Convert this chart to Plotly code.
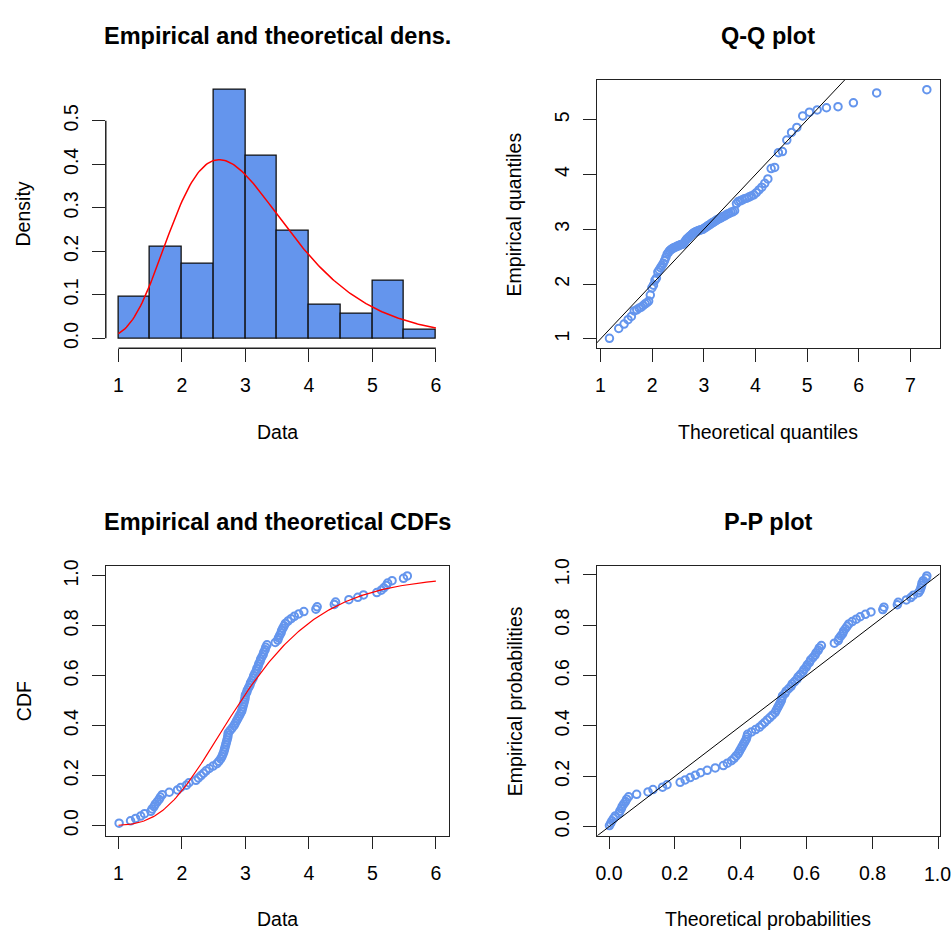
import math
from statistics import NormalDist
import numpy as np
import plotly.graph_objects as go

# Sorted sample (n = 105)
data = [
    1.01, 1.19, 1.27, 1.35, 1.41,
    1.51, 1.53, 1.56, 1.58, 1.61, 1.64, 1.66, 1.69, 1.80, 1.93, 1.98,
    2.07, 2.11, 2.22, 2.26, 2.30, 2.34, 2.38, 2.43, 2.49,
    2.55, 2.58, 2.61, 2.63, 2.645, 2.66, 2.67, 2.68, 2.69, 2.70,
    2.71, 2.72, 2.725, 2.73, 2.76, 2.79, 2.82, 2.84, 2.86, 2.88,
    2.90, 2.92, 2.94, 2.95, 2.96, 2.97, 2.98, 2.99, 2.995, 3.00,
    3.02, 3.03, 3.05, 3.07, 3.08, 3.10, 3.12, 3.13, 3.15, 3.17,
    3.18, 3.20, 3.21, 3.23, 3.24, 3.26, 3.28, 3.29, 3.31, 3.32, 3.34, 3.47,
    3.51, 3.52, 3.54, 3.56, 3.57, 3.59, 3.61, 3.63, 3.67, 3.72, 3.77, 3.84, 3.92,
    4.11, 4.13, 4.40, 4.42,
    4.63, 4.77, 4.86,
    5.07, 5.14, 5.18, 5.22, 5.24, 5.31, 5.49,
    5.55,
]

# Fitted lognormal parameters
meanlog = 1.075
sdlog = 0.353

hist_breaks = [1.0, 1.5, 2.0, 2.5, 3.0, 3.5, 4.0, 4.5, 5.0, 5.5, 6.0]
data_ticks = [1, 2, 3, 4, 5, 6]
density_ticks = [0.0, 0.1, 0.2, 0.3, 0.4, 0.5]
qq_x_ticks = [1, 2, 3, 4, 5, 6, 7]
qq_y_ticks = [1, 2, 3, 4, 5]
prob_ticks = [0.0, 0.2, 0.4, 0.6, 0.8, 1.0]
prob_labels = ["0.0", "0.2", "0.4", "0.6", "0.8", "1.0"]

W, H = 952, 932
FONT = "Liberation Sans, Arial, sans-serif"
BLUE = "#6495ED"
AXC = "#222222"

x = np.array(data)
n = len(x)
nd = NormalDist()


def plnorm(v):
    return np.array([nd.cdf((math.log(t) - meanlog) / sdlog) for t in np.atleast_1d(v)])


def dlnorm(v):
    v = np.atleast_1d(v)
    z = (np.log(v) - meanlog) / sdlog
    return np.exp(-0.5 * z * z) / (v * sdlog * math.sqrt(2 * math.pi))


def qlnorm(p):
    return np.array([math.exp(meanlog + sdlog * nd.inv_cdf(q)) for q in p])


def extend(lo, hi, f=0.04):
    d = hi - lo
    return [lo - f * d, hi + f * d]


# right-closed histogram bins (a, b], first bin includes its lower edge
br = np.array(hist_breaks)
idx = np.searchsorted(br, x, side="left")
idx[idx == 0] = 1
counts = np.array([(idx == i).sum() for i in range(1, len(br))])
widths = np.diff(br)
dens = counts / (n * widths)
centers = (br[:-1] + br[1:]) / 2

obsp = (np.arange(1, n + 1) - 0.5) / n        # plotting positions
ecdf = np.arange(1, n + 1) / n
theo_q = qlnorm(obsp)
theo_p = plnorm(x)

grid = np.linspace(hist_breaks[0], hist_breaks[-1], 201)

# plot regions in pixels: (left, right, top, bottom)
regions = {
    1: (104.0, 447.5, 72.5, 344.0),
    2: (596.0, 939.5, 72.5, 344.0),
    3: (104.0, 447.5, 564.0, 836.5),
    4: (596.0, 939.5, 564.0, 836.5),
}


def xdom(k):
    l, r, t, b = regions[k]
    return [l / W, r / W]


def ydom(k):
    l, r, t, b = regions[k]
    return [1 - b / H, 1 - t / H]


fig = go.Figure()

# panel 1: histogram + fitted density
fig.add_trace(go.Bar(x=centers, y=dens, width=widths, marker=dict(color=BLUE, line=dict(color="#111111", width=1.3)),
                     xaxis="x", yaxis="y"))
fig.add_trace(go.Scatter(x=grid, y=dlnorm(grid), mode="lines", line=dict(color="red", width=1.5),
                         xaxis="x", yaxis="y"))

marker = dict(symbol="circle-open", size=7.5, color=BLUE, line=dict(width=2, color=BLUE))

# panel 2: Q-Q
qq_xr = extend(theo_q.min(), theo_q.max())
qq_yr = extend(x.min(), x.max())
fig.add_trace(go.Scatter(x=theo_q, y=x, mode="markers", marker=marker, xaxis="x2", yaxis="y2"))
lo_l, hi_l = min(qq_xr[0], qq_yr[0]), max(qq_xr[1], qq_yr[1])
fig.add_trace(go.Scatter(x=[lo_l, hi_l], y=[lo_l, hi_l], mode="lines", line=dict(color="black", width=1),
                         xaxis="x2", yaxis="y2"))

# panel 3: CDFs
fig.add_trace(go.Scatter(x=x, y=ecdf, mode="markers", marker=marker, xaxis="x3", yaxis="y3"))
fig.add_trace(go.Scatter(x=grid, y=plnorm(grid), mode="lines", line=dict(color="red", width=1.2),
                         xaxis="x3", yaxis="y3"))

# panel 4: P-P
pp_xr = extend(theo_p.min(), theo_p.max())
pp_yr = extend(obsp.min(), obsp.max())
fig.add_trace(go.Scatter(x=theo_p, y=obsp, mode="markers", marker=marker, xaxis="x4", yaxis="y4"))
lo_p, hi_p = min(pp_xr[0], pp_yr[0]), max(pp_xr[1], pp_yr[1])
fig.add_trace(go.Scatter(x=[lo_p, hi_p], y=[lo_p, hi_p], mode="lines", line=dict(color="black", width=1),
                         xaxis="x4", yaxis="y4"))

tickfont = dict(family=FONT, size=19.5, color="black")


def xax(k, rng, ticks, fmt, anchor, box, text=None):
    d = dict(domain=xdom(k), range=rng, tickvals=ticks, tickformat=fmt, anchor=anchor,
             showgrid=False, zeroline=False, ticks="outside", ticklen=12.5, tickwidth=1.3, tickcolor=AXC,
             showline=box, mirror=box, linecolor=AXC, linewidth=1.3, tickfont=tickfont,
             ticklabelstandoff=7)
    if text is not None:
        d["ticktext"] = text
    return d


def yax(k, rng, ticks, fmt, anchor, box):
    return dict(domain=ydom(k), range=rng, tickvals=ticks, tickformat=fmt, anchor=anchor,
                showgrid=False, zeroline=False, ticks="outside", ticklen=12.5, tickwidth=1.3, tickcolor=AXC,
                showline=box, mirror=box, linecolor=AXC, linewidth=1.3, tickfont=tickfont,
                tickangle=-90, ticklabelstandoff=6)


# the last P-P x label sits against the right page edge; it is written separately below
pp_x_text = prob_labels[:-1] + [""]

fig.update_layout(
    width=W, height=H, margin=dict(l=0, r=0, t=0, b=0),
    paper_bgcolor="white", plot_bgcolor="white", showlegend=False,
    bargap=0, barmode="overlay",
    xaxis=xax(1, extend(hist_breaks[0], hist_breaks[-1]), data_ticks, "d", "y", False),
    yaxis=yax(1, extend(0, dens.max()), density_ticks, ".1f", "x", False),
    xaxis2=xax(2, qq_xr, qq_x_ticks, "d", "y2", True),
    yaxis2=yax(2, qq_yr, qq_y_ticks, "d", "x2", True),
    xaxis3=xax(3, extend(hist_breaks[0], hist_breaks[-1]), data_ticks, "d", "y3", True),
    yaxis3=yax(3, extend(0, 1), prob_ticks, ".1f", "x3", True),
    xaxis4=xax(4, pp_xr, prob_ticks, ".1f", "y4", True, pp_x_text),
    yaxis4=yax(4, pp_yr, prob_ticks, ".1f", "x4", True),
)

fig.add_annotation(text=prob_labels[-1], x=1.0, y=1 - 875 / H, xref="paper", yref="paper",
                   showarrow=False, xanchor="right", yanchor="middle", borderpad=0,
                   font=tickfont)

# axis lines of the histogram panel span only the tick range
l1, r1, t1, b1 = regions[1]
fig.add_shape(type="line", xref="x", yref="paper", x0=data_ticks[0], x1=data_ticks[-1],
              y0=1 - b1 / H, y1=1 - b1 / H, line=dict(color=AXC, width=1.5))
fig.add_shape(type="line", xref="paper", yref="y", x0=l1 / W, x1=l1 / W,
              y0=density_ticks[0], y1=density_ticks[-1], line=dict(color=AXC, width=1.5))

titles = {1: "Empirical and theoretical dens.", 2: "Q-Q plot",
          3: "Empirical and theoretical CDFs", 4: "P-P plot"}
xlabels = {1: "Data", 2: "Theoretical quantiles", 3: "Data", 4: "Theoretical probabilities"}
ylabels = {1: "Density", 2: "Empirical quantiles", 3: "CDF", 4: "Empirical probabilities"}

for k, (l, r, t, b) in regions.items():
    cx = (l + r) / 2 / W
    cy = 1 - (t + b) / 2 / H
    fig.add_annotation(text=titles[k], x=cx, y=1 - (t - 44.5) / H, xref="paper", yref="paper",
                       showarrow=False, xanchor="center", yanchor="middle",
                       font=dict(family=FONT, size=23.5, color="black", weight="bold"))
    fig.add_annotation(text=xlabels[k], x=cx, y=1 - (b + 84.5) / H, xref="paper", yref="paper",
                       showarrow=False, xanchor="center", yanchor="middle",
                       font=dict(family=FONT, size=19.5, color="black"))
    fig.add_annotation(text=ylabels[k], x=(l - 82.5) / W, y=cy, xref="paper", yref="paper",
                       showarrow=False, xanchor="center", yanchor="middle", textangle=-90,
                       font=dict(family=FONT, size=19.5, color="black"))

fig.write_html("out.html")
